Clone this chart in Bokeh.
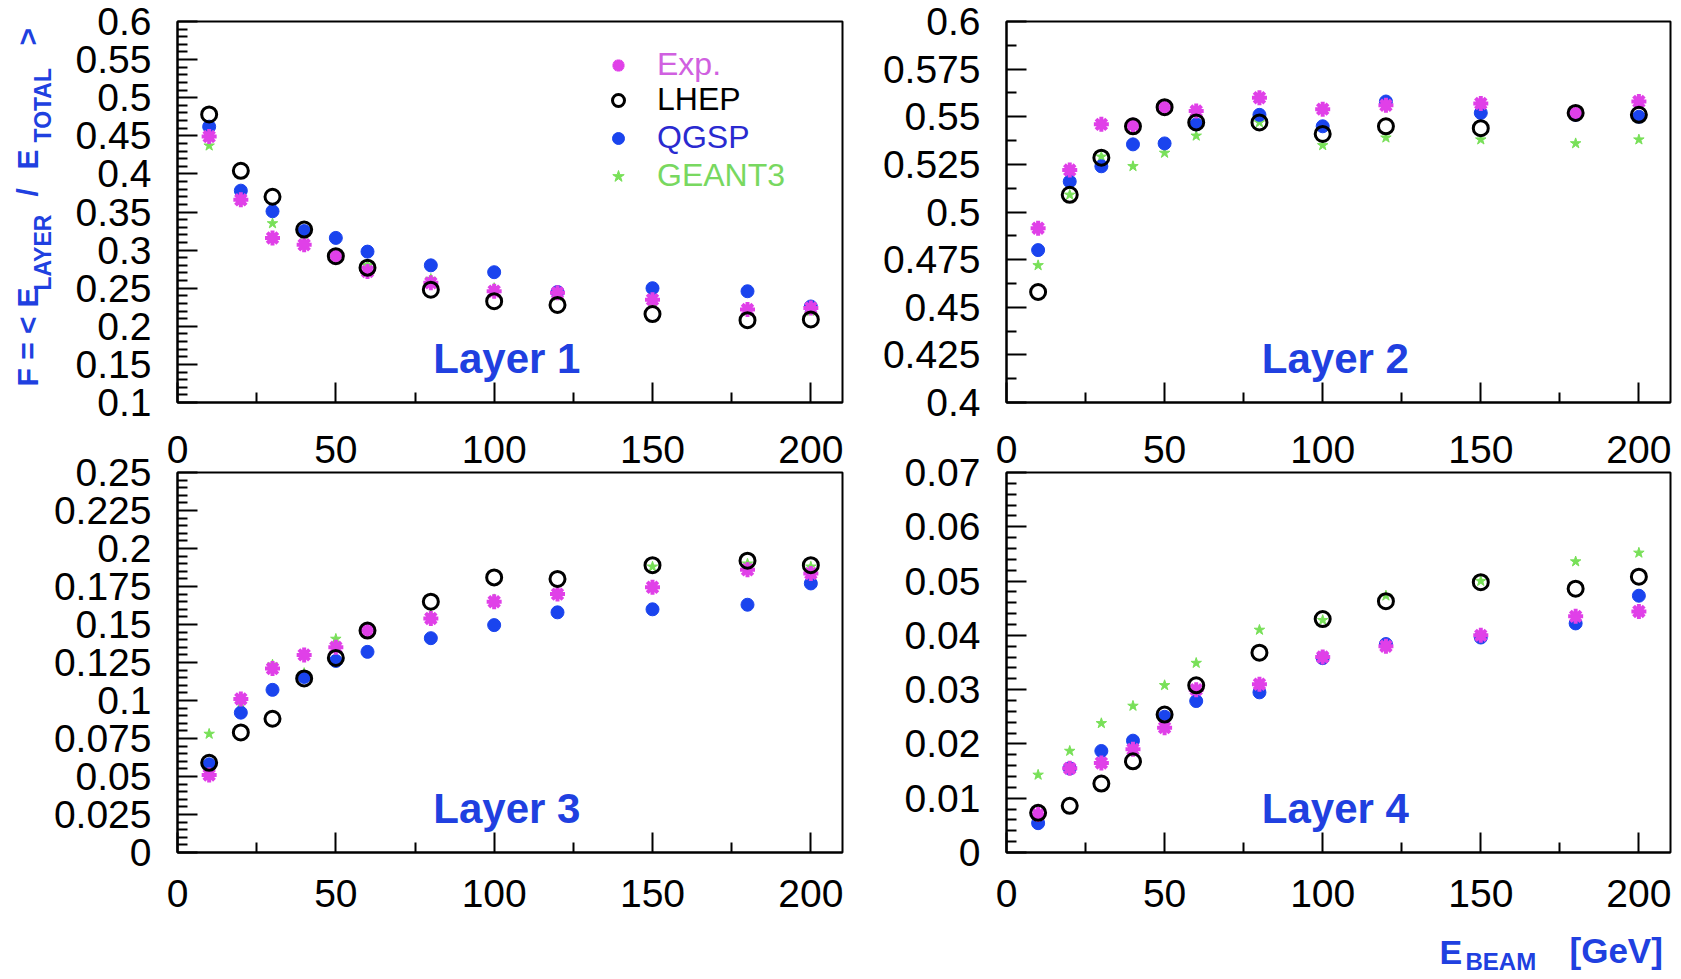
import math
from bokeh.plotting import figure
from bokeh.models import (FixedTicker, CustomJSTickFormatter, LinearAxis, Label,
                          Legend, LegendItem, Range1d, ColumnDataSource)
from bokeh.layouts import column, row
from bokeh.embed import file_html
from bokeh.resources import INLINE

# ---------------- data ----------------
energies = [10, 20, 30, 40, 50, 60, 80, 100, 120, 150, 180, 200]

layer1_exp = [0.449, 0.366, 0.316, 0.307, 0.292, 0.272, 0.257, 0.246, 0.244, 0.235, 0.222, 0.224]
layer1_lhep = [0.478, 0.404, 0.370, 0.327, 0.292, 0.277, 0.248, 0.233, 0.228, 0.216, 0.208, 0.209]
layer1_qgsp = [0.462, 0.378, 0.351, 0.325, 0.316, 0.298, 0.280, 0.271, 0.245, 0.250, 0.246, 0.226]
layer1_geant3 = [0.437, 0.365, 0.335, 0.320, 0.295, 0.280, 0.262, 0.250, 0.240, 0.232, 0.220, 0.220]

layer2_exp = [0.4915, 0.522, 0.546, 0.5456, 0.555, 0.553, 0.560, 0.554, 0.556, 0.557, 0.552, 0.558]
layer2_lhep = [0.458, 0.509, 0.5285, 0.545, 0.555, 0.547, 0.547, 0.541, 0.545, 0.544, 0.552, 0.551]
layer2_qgsp = [0.480, 0.516, 0.524, 0.5355, 0.536, 0.546, 0.551, 0.545, 0.558, 0.552, 0.551, 0.550]
layer2_geant3 = [0.472, 0.509, 0.529, 0.524, 0.531, 0.540, 0.547, 0.535, 0.539, 0.538, 0.536, 0.538]

layer3_exp = [0.051, 0.101, 0.121, 0.130, 0.135, 0.146, 0.154, 0.165, 0.170, 0.1745, 0.186, 0.1836]
layer3_lhep = [0.059, 0.079, 0.088, 0.1145, 0.128, 0.146, 0.165, 0.181, 0.180, 0.189, 0.192, 0.189]
layer3_qgsp = [0.058, 0.092, 0.107, 0.1155, 0.126, 0.132, 0.141, 0.1496, 0.158, 0.160, 0.163, 0.177]
layer3_geant3 = [0.078, 0.098, 0.1235, 0.118, 0.1405, 0.147, 0.156, 0.1665, 0.171, 0.188, 0.190, 0.188]

layer4_exp = [0.007, 0.0155, 0.0165, 0.019, 0.023, 0.030, 0.031, 0.036, 0.038, 0.040, 0.0435, 0.0444]
layer4_lhep = [0.0073, 0.0086, 0.0127, 0.0168, 0.0254, 0.0308, 0.0368, 0.043, 0.0463, 0.0498, 0.0486, 0.0508]
layer4_qgsp = [0.0054, 0.0155, 0.0187, 0.0206, 0.025, 0.0279, 0.0295, 0.0358, 0.0384, 0.0396, 0.0422, 0.0473]
layer4_geant3 = [0.0143, 0.0187, 0.0238, 0.027, 0.0308, 0.0349, 0.041, 0.0428, 0.0473, 0.050, 0.0536, 0.0552]

series_names = ["Exp.", "LHEP", "QGSP", "GEANT3"]
layer_titles = ["Layer 1", "Layer 2", "Layer 3", "Layer 4"]

x_ticks = [0, 50, 100, 150, 200]
x_minor_ticks = [25, 75, 125, 175]
y_ticks_1 = [0.1, 0.15, 0.2, 0.25, 0.3, 0.35, 0.4, 0.45, 0.5, 0.55, 0.6]
y_ticks_2 = [0.4, 0.425, 0.45, 0.475, 0.5, 0.525, 0.55, 0.575, 0.6]
y_ticks_3 = [0, 0.025, 0.05, 0.075, 0.1, 0.125, 0.15, 0.175, 0.2, 0.225, 0.25]
y_ticks_4 = [0, 0.01, 0.02, 0.03, 0.04, 0.05, 0.06, 0.07]

# ---------------- style ----------------
FONT = "Liberation Sans"
TICK_FS = "39px"
BLUE_TXT = "#2040e0"
C_EXP = "#e040e8"
C_QGSP = "#1a44ee"
C_G3 = "#78e058"
TXT_EXP = "#d060e0"
TXT_QGSP = "#2a2ad0"
TXT_G3 = "#78d860"
X_RANGE = (0, 210)

fmt_code = "return String(parseFloat(tick.toFixed(4)));"


def minor_between(ticks, nsub):
    out = []
    for a, b in zip(ticks[:-1], ticks[1:]):
        for k in range(1, nsub):
            out.append(round(a + (b - a) * k / nsub, 6))
    return out


def make_panel(yvals, yticks, nsub, width, height, bl, br, bt, bb, top_row):
    p = figure(width=width, height=height, x_range=Range1d(*X_RANGE),
               y_range=Range1d(yticks[0], yticks[-1]),
               output_backend="svg", toolbar_location=None,
               min_border_left=bl, min_border_right=br,
               min_border_top=bt, min_border_bottom=bb)
    p.grid.visible = False
    p.outline_line_color = "black"
    p.outline_line_width = 2
    p.outline_line_alpha = 1.0
    p.background_fill_color = "white"
    p.border_fill_color = "white"

    xa = p.xaxis[0]
    xa.ticker = FixedTicker(ticks=x_ticks, minor_ticks=x_minor_ticks)
    xa.formatter = CustomJSTickFormatter(code=fmt_code)
    xa.axis_line_width = 2
    xa.major_tick_in = 20
    xa.major_tick_out = 0
    xa.minor_tick_in = 10
    xa.minor_tick_out = 0
    xa.major_tick_line_width = 2
    xa.minor_tick_line_width = 2
    xa.major_label_text_font = FONT
    xa.major_label_text_color = "black"
    if top_row:
        xa.formatter = CustomJSTickFormatter(code="return '';")
        xa.major_label_text_font_size = "0px"
        xa.major_label_standoff = 0
    else:
        xa.major_label_text_font_size = TICK_FS
        xa.major_label_standoff = 27

    ya = p.yaxis[0]
    ya.ticker = FixedTicker(ticks=yticks, minor_ticks=minor_between(yticks, nsub))
    ya.formatter = CustomJSTickFormatter(code=fmt_code)
    ya.axis_line_width = 2
    ya.major_tick_in = 20
    ya.major_tick_out = 0
    ya.minor_tick_in = 10
    ya.minor_tick_out = 0
    ya.major_tick_line_width = 2
    ya.minor_tick_line_width = 2
    ya.major_label_text_font = FONT
    ya.major_label_text_font_size = TICK_FS
    ya.major_label_text_color = "black"
    ya.major_label_standoff = 26

    exp, lhep, qgsp, g3 = yvals
    src = ColumnDataSource(dict(e=energies, exp=exp, lhep=lhep, qgsp=qgsp, g3=g3))
    r_g3 = p.scatter("e", "g3", source=src, marker="star", size=11,
                     fill_color=C_G3, line_color=C_G3, line_width=1)
    r_q = p.scatter("e", "qgsp", source=src, marker="circle", size=13,
                    fill_color=C_QGSP, line_color=C_QGSP, line_width=1)
    r_e = p.scatter("e", "exp", source=src, marker="asterisk", size=15,
                    line_color=C_EXP, line_width=4)
    r_l = p.scatter("e", "lhep", source=src, marker="circle", size=15,
                    fill_color=None, line_color="black", line_width=3)
    return p, (r_e, r_l, r_q, r_g3)


def blank_fig(w, h, xr, yr, bl=0, br=0, bt=0, bb=0):
    f = figure(width=w, height=h, x_range=Range1d(*xr), y_range=Range1d(*yr),
               output_backend="svg", toolbar_location=None,
               x_axis_location=None, y_axis_location=None,
               min_border_left=bl, min_border_right=br,
               min_border_top=bt, min_border_bottom=bb)
    f.grid.visible = False
    f.outline_line_color = None
    f.background_fill_color = "white"
    f.border_fill_color = "white"
    return f


# geometry (px)
YT_W = 56                 # strip with the y-axis title
TOP_H = 424               # top row: frame 21..402
P1_W = 850 - YT_W
P2_W = 831
P3_W = 850
P4_H = 495                # lower-right panel: frame 472..852, ends at 919
XT_H = 979 - TOP_H - P4_H
BOT_H = 979 - TOP_H
BT = 472 - TOP_H          # top border of the lower panels

p1, rends1 = make_panel([layer1_exp, layer1_lhep, layer1_qgsp, layer1_geant3], y_ticks_1, 5,
                        P1_W, TOP_H, 177 - YT_W, 8, 21, TOP_H - 21 - 381, True)
p2, _ = make_panel([layer2_exp, layer2_lhep, layer2_qgsp, layer2_geant3], y_ticks_2, 2,
                   P2_W, TOP_H, 156, 11, 21, TOP_H - 21 - 381, True)
p3, _ = make_panel([layer3_exp, layer3_lhep, layer3_qgsp, layer3_geant3], y_ticks_3, 5,
                   P3_W, BOT_H, 177, 8, BT, BOT_H - BT - 380, False)
p4, _ = make_panel([layer4_exp, layer4_lhep, layer4_qgsp, layer4_geant3], y_ticks_4, 5,
                   P2_W, P4_H, 156, 11, BT, P4_H - BT - 380, False)

# x tick labels of the upper panels, shown just above the lower panels
for p in (p3, p4):
    top_ax = LinearAxis(ticker=FixedTicker(ticks=x_ticks),
                        formatter=CustomJSTickFormatter(code=fmt_code))
    top_ax.axis_line_color = None
    top_ax.major_tick_line_color = None
    top_ax.minor_tick_line_color = None
    top_ax.major_tick_in = 0
    top_ax.major_tick_out = 0
    top_ax.minor_tick_in = 0
    top_ax.minor_tick_out = 0
    top_ax.major_label_text_font = FONT
    top_ax.major_label_text_font_size = TICK_FS
    top_ax.major_label_text_color = "black"
    top_ax.major_label_standoff = 10
    p.add_layout(top_ax, "above")

# Layer titles
for p, title, yt, fh in ((p1, layer_titles[0], y_ticks_1, 381), (p2, layer_titles[1], y_ticks_2, 381),
                         (p3, layer_titles[2], y_ticks_3, 380), (p4, layer_titles[3], y_ticks_4, 380)):
    y0, y1 = yt[0], yt[-1]
    p.add_layout(Label(x=104, y=y0 + 44.0 / fh * (y1 - y0), text=title,
                       text_align="center", text_baseline="alphabetic",
                       text_font=FONT, text_font_style="bold",
                       text_font_size="42px", text_color=BLUE_TXT))

# Legend (one entry per Legend so each text keeps its own colour)
leg_colors = [TXT_EXP, "black", TXT_QGSP, TXT_G3]
leg_centers = [336, 301, 263, 225]  # px from frame bottom
for name, rend, col, cy in zip(series_names, rends1, leg_colors, leg_centers):
    lg = Legend(items=[LegendItem(label=name, renderers=[rend])],
                location=(426, cy - 17), padding=0, margin=0, spacing=0,
                glyph_width=30, glyph_height=30, label_standoff=24,
                label_text_font=FONT, label_text_font_size="32px",
                label_text_color=col, border_line_color=None,
                background_fill_alpha=0.0, label_height=34)
    p1.add_layout(lg)

# Y axis title in its own strip figure; its frame spans page y 21..402
yt_fig = blank_fig(YT_W, TOP_H, (0, YT_W), (0, 381), bt=21, bb=TOP_H - 21 - 381)
ytitle_parts = [("F = <", 27, 386, "30px"), ("E", 27, 307, "30px"), ("LAYER", 42, 290, "23px"),
                ("/", 27, 196, "30px"), ("E", 27, 169, "30px"), ("TOTAL", 42, 142, "23px"),
                (">", 27, 45, "30px")]
for txt, cx, by, fs in ytitle_parts:
    yt_fig.add_layout(Label(x=cx, y=402 - by, text=txt, angle=math.pi / 2,
                            text_align="left", text_baseline="alphabetic",
                            text_font=FONT, text_font_style="bold",
                            text_font_size=fs, text_color=BLUE_TXT))

# X axis title in a strip under panel 4; its frame spans page x 1006..1670, y 919..979
xt_fig = blank_fig(P2_W, XT_H, (0, 664), (0, XT_H), bl=156, br=11)
xtitle_parts = [("E", 1439, 951, "34px"), ("BEAM", 1465, 961, "24px"), ("[GeV]", 1569, 950, "35px")]
for txt, bx, cy, fs in xtitle_parts:
    xt_fig.add_layout(Label(x=bx - 1006, y=979 - cy, text=txt, text_align="left",
                            text_baseline="alphabetic", text_font=FONT, text_font_style="bold",
                            text_font_size=fs, text_color=BLUE_TXT))

layout = column(row(yt_fig, p1, p2, spacing=0),
                row(p3, column(p4, xt_fig, spacing=0), spacing=0), spacing=0)

open("out.html", "w").write(file_html(layout, INLINE))
